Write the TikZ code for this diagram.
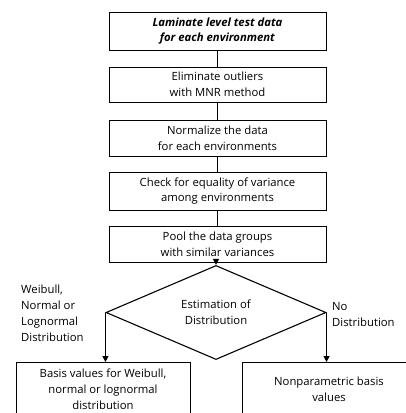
\documentclass[tikz,border=0pt]{standalone}
\usepackage{fontspec}
\setmainfont{Open Sans}
\usetikzlibrary{arrows.meta,shapes.geometric}
\begin{document}
\begin{tikzpicture}[x=1pt,y=-1pt,
  txt/.style={font=\fontsize{11.3}{15.8}\selectfont},
  box/.style={draw, line width=0.9pt, minimum width=217pt, align=center, txt, inner sep=0pt},
  lbox/.style={draw, line width=0.9pt, minimum width=174pt, minimum height=53pt, align=center, txt, inner sep=0pt, anchor=north},
  link/.style={line width=1.3pt},
  arr/.style={line width=1.3pt, -{Triangle[length=6pt,width=6pt]}},
  lab/.style={txt, align=left, inner sep=0pt, anchor=north west}]
\useasboundingbox (0,0) rectangle (406,413);
\clip (0,0) rectangle (406,413);
\node[box, minimum height=38pt] (b1) at (217.5,31) {\textbf{\textit{Laminate level test data}}\\\textbf{\textit{for each environment}}};
\node[box, minimum height=35pt] (b2) at (217.5,84.5) {Eliminate outliers\\with MNR method};
\node[box, minimum height=36pt] (b3) at (217.5,138) {Normalize the data\\for each environments};
\node[box, minimum height=38pt] (b4) at (217.5,191) {Check for equality of variance\\among environments};
\node[box, minimum height=36pt] (b5) at (217.5,244) {Pool the data groups\\with similar variances};
\node[draw, line width=1.1pt, shape=diamond, minimum width=220pt, minimum height=69pt, inner sep=0pt, align=center, txt] (dia) at (216,312.5) {Estimation of\\Distribution};
\node[lbox] (lb) at (103,362) {Basis values for Weibull,\\normal or lognormal\\distribution};
\node[lbox] (rb) at (329,362) {Nonparametric basis\\values};
\draw[link] (b1) -- (b2);
\draw[link] (b2) -- (b3);
\draw[link] (b3) -- (b4);
\draw[link] (b4) -- (b5);
\draw[arr] (b5.south -| dia.north) -- (dia.north);
\draw[arr] (dia.west) -- (dia.west |- lb.north);
\draw[arr] (dia.east) -- (dia.east |- rb.north);
\node[lab] (ll) at (21,285) {Weibull,\\Normal or\\Lognormal\\Distribution};
\node[lab] (rl) at (332,302) {No\\Distribution};
\end{tikzpicture}
\end{document}
